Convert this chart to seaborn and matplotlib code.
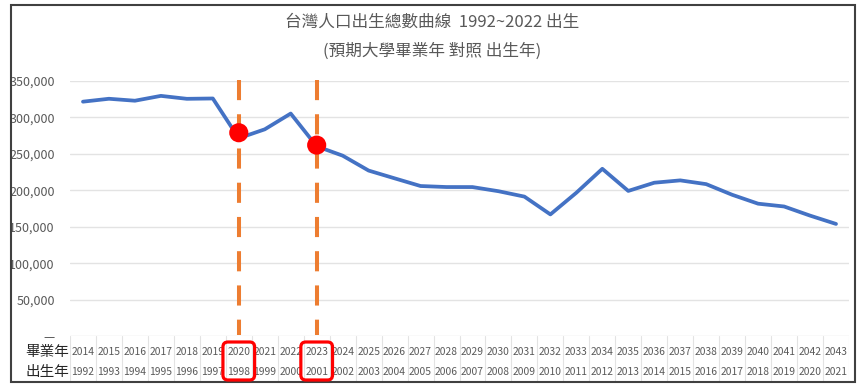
import matplotlib
matplotlib.use("Agg")
import matplotlib.pyplot as plt
from matplotlib.patches import FancyBboxPatch, Rectangle
import pandas as pd
import seaborn as sns

# data
grad_years = [2014, 2015, 2016, 2017, 2018, 2019, 2020, 2021, 2022, 2023,
              2024, 2025, 2026, 2027, 2028, 2029, 2030, 2031, 2032, 2033,
              2034, 2035, 2036, 2037, 2038, 2039, 2040, 2041, 2042, 2043]
birth_years = [1992, 1993, 1994, 1995, 1996, 1997, 1998, 1999, 2000, 2001,
               2002, 2003, 2004, 2005, 2006, 2007, 2008, 2009, 2010, 2011,
               2012, 2013, 2014, 2015, 2016, 2017, 2018, 2019, 2020, 2021]
births = [321632, 325613, 322938, 329581, 325545, 326002, 271450, 283661,
          305312, 260354, 247530, 227070, 216419, 205854, 204459, 204414,
          198733, 191310, 166886, 196627, 229481, 199113, 210383, 213598,
          208440, 193844, 181601, 177767, 165249, 153820]
highlight_grad = [2020, 2023]
highlight_values = [279000, 262000]
y_ticks = [0, 50000, 100000, 150000, 200000, 250000, 300000, 350000]

title = "台灣人口出生總數曲線  1992~2022 出生"
subtitle = "(預期大學畢業年 對照 出生年)"
row_labels = ["畢業年", "出生年"]

sns.set_style("white")
plt.rcParams["font.family"] = ["Noto Sans CJK TC", "DejaVu Sans"]

df = pd.DataFrame({
    "pos": list(range(len(births))),
    "grad": grad_years,
    "birth": birth_years,
    "births": births,
})
hl = pd.DataFrame({
    "pos": [grad_years.index(g) for g in highlight_grad],
    "value": highlight_values,
})

W, H = 865, 388
fig = plt.figure(figsize=(W / 100, H / 100), dpi=100)


def fx(px):
    return px / W


def fy(py):
    return 1 - py / H


text_gray = "#595959"
grid_gray = "#E3E3E3"

# main chart
ax = fig.add_axes([fx(70), fy(336), fx(849) - fx(70), fy(81) - fy(336)])
sns.lineplot(data=df, x="pos", y="births", ax=ax, color="#4472C4",
             linewidth=2.7, solid_capstyle="round", zorder=3)

for p in hl["pos"]:
    ax.plot([p, p], [351400, 1400], color="#ED7D31", linewidth=2.9,
            linestyle=(0, (5.0, 3.5)), dash_capstyle="butt",
            clip_on=False, zorder=2)

sns.scatterplot(data=hl, x="pos", y="value", ax=ax, color="#FF0000",
                s=190, edgecolor="none", zorder=4, clip_on=False)

ax.set_xlim(-0.5, len(births) - 0.5)
ax.set_ylim(0, 350000)
ax.set_yticks(y_ticks)
ax.set_yticklabels(["—" if v == 0 else f"{v:,}" for v in y_ticks],
                   color=text_gray, fontsize=9)
ax.set_xticks([])
ax.tick_params(axis="y", length=0, pad=11)
ax.yaxis.grid(True, color=grid_gray, linewidth=1)
ax.set_xlabel("")
ax.set_ylabel("")
for s in ax.spines.values():
    s.set_visible(False)

# data table under the chart
tax = fig.add_axes([fx(70), fy(381), fx(849) - fx(70), fy(336) - fy(381)])
tax.set_xlim(-0.5, len(births) - 0.5)
tax.set_ylim(381, 336)
tax.axis("off")
for i in range(len(births) + 1):
    tax.plot([i - 0.5, i - 0.5], [336, 381], color=grid_gray, linewidth=0.8)
for i, row in df.iterrows():
    tax.text(row["pos"], 352, str(row["grad"]), ha="center", va="center",
             fontsize=7.4, color=text_gray)
    tax.text(row["pos"], 372, str(row["birth"]), ha="center", va="center",
             fontsize=7.4, color=text_gray)

fig.canvas.draw()
for p in hl["pos"]:
    x0, y0 = tax.transData.transform((p - 0.61, 380))
    x1, y1 = tax.transData.transform((p + 0.61, 342))
    box = FancyBboxPatch((x0, y0), x1 - x0, y1 - y0,
                         boxstyle="round,pad=0,rounding_size=5",
                         transform=None, fill=False, edgecolor="#FF0000",
                         linewidth=2.3, zorder=5)
    fig.patches.append(box)

fig.text(fx(47), fy(352), row_labels[0], ha="center", va="center",
         fontsize=10.5, color="#262626")
fig.text(fx(47), fy(372), row_labels[1], ha="center", va="center",
         fontsize=10.5, color="#262626")

fig.text(fx(432), fy(22), title, ha="center", va="center", fontsize=12,
         color=text_gray)
fig.text(fx(432), fy(51), subtitle, ha="center", va="center", fontsize=12,
         color=text_gray)

# chart frame
fig.patches.append(Rectangle((fx(11), fy(382)), fx(855) - fx(11),
                             fy(5) - fy(382), transform=fig.transFigure,
                             fill=False, edgecolor="#404040", linewidth=1.5))

fig.savefig("out.png", dpi=100)
